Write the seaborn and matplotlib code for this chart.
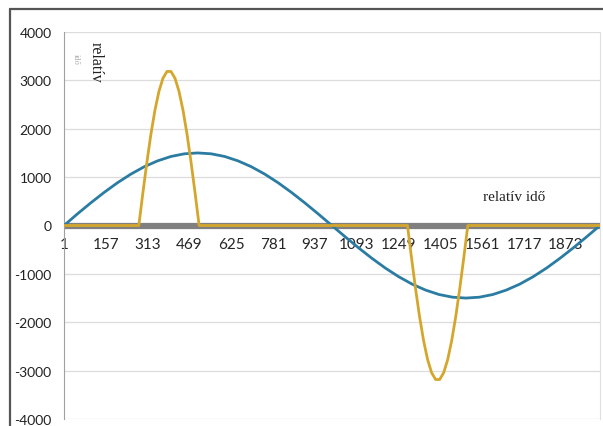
import numpy as np
import pandas as pd
import matplotlib
matplotlib.use("Agg")
import matplotlib.pyplot as plt
from matplotlib.lines import Line2D
import seaborn as sns

# ---- data ----
blue_x = [1, 50, 100, 150, 200, 250, 300, 350, 400, 450, 500, 550, 600, 650, 700, 750, 800,
          850, 900, 950, 1000, 1050, 1100, 1150, 1200, 1250, 1300, 1350, 1400, 1450, 1500,
          1550, 1600, 1650, 1700, 1750, 1800, 1850, 1900, 1950, 2000]
blue_y = [0, 235, 464, 681, 882, 1061, 1214, 1336, 1427, 1482, 1500, 1482, 1427, 1336, 1214,
          1061, 882, 681, 464, 235, 0, -235, -464, -681, -882, -1061, -1214, -1336, -1427,
          -1482, -1500, -1482, -1427, -1336, -1214, -1061, -882, -681, -464, -235, 0]

gold_x = [1, 280, 295, 310, 325, 340, 355, 370, 385, 400, 415, 430, 445, 460, 475, 490, 505,
          1282, 1297, 1312, 1327, 1342, 1357, 1372, 1387, 1402, 1417, 1432, 1447, 1462, 1477,
          1492, 1507, 2000]
gold_y = [0, 0, 666, 1302, 1882, 2378, 2771, 3043, 3184, 3184, 3043, 2771, 2378, 1882, 1302,
          666, 0,
          0, -666, -1302, -1882, -2378, -2771, -3043, -3184, -3184, -3043, -2771, -2378, -1882,
          -1302, -666, 0, 0]

gray_x = [1, 2000]
gray_y = [0, 0]

x_ticks = [1, 157, 313, 469, 625, 781, 937, 1093, 1249, 1405, 1561, 1717, 1873]
y_ticks = [-4000, -3000, -2000, -1000, 0, 1000, 2000, 3000, 4000]

# ---- plotting ----
sns.set_theme(style="white")
plt.rcParams['font.family'] = ['Lato', 'DejaVu Sans']

W, H = 603, 427
fig = plt.figure(figsize=(W / 100, H / 100), dpi=100)
fig.patch.set_facecolor("white")
ax = fig.add_axes([64 / W, (H - 420) / H, (600 - 64) / W, (420 - 33) / H])

df_gray = pd.DataFrame({"x": gray_x, "y": gray_y})
df_blue = pd.DataFrame({"x": blue_x, "y": blue_y})
df_gold = pd.DataFrame({"x": gold_x, "y": gold_y})

sns.lineplot(data=df_gray, x="x", y="y", ax=ax, color="#808080", linewidth=4.5,
             estimator=None, sort=False, zorder=2)
sns.lineplot(data=df_blue, x="x", y="y", ax=ax, color="#2b7ca3", linewidth=2.0,
             estimator=None, sort=False, zorder=3)
sns.lineplot(data=df_gold, x="x", y="y", ax=ax, color="#d4a72c", linewidth=2.0,
             estimator=None, sort=False, zorder=4)

ax.set_xlim(1, 2000)
ax.set_ylim(-4000, 4000)
ax.set_yticks(y_ticks)
ax.set_yticklabels([str(v) for v in y_ticks], fontsize=10, color="#222222")
ax.set_xticks(x_ticks)
ax.set_xticklabels([str(v) for v in x_ticks], fontsize=10, color="#222222")
ax.set_xlabel("")
ax.set_ylabel("")
ax.grid(axis="y", color="#dcdcdc", linewidth=0.9)
ax.grid(axis="x", visible=False)

ax.spines["top"].set_visible(False)
ax.spines["right"].set_color("#e0e0e0")
ax.spines["right"].set_linewidth(0.8)
ax.spines["left"].set_color("#a0a0a0")
ax.spines["left"].set_linewidth(0.8)
ax.spines["bottom"].set_position(("data", 0))
ax.spines["bottom"].set_visible(False)
ax.tick_params(axis="x", length=0, pad=8)
ax.tick_params(axis="y", length=0, pad=9)

ax.text(1679, 600, "relatív idő", family="Liberation Serif", fontsize=11,
        color="#222222", ha="center", va="center")
ax.text(118, 3400, "relatív", family="Liberation Serif", fontsize=11.5,
        color="#222222", rotation=-90, ha="center", va="center")
ax.text(45, 3450, "idő", family="Liberation Serif", fontsize=6, color="#aaaaaa",
        rotation=-90, ha="center", va="center")

# chart border
fig.add_artist(Line2D([10 / W, 1.0], [1 - 10 / H, 1 - 10 / H], color="#555555",
                      linewidth=1.6, transform=fig.transFigure))
fig.add_artist(Line2D([10 / W, 10 / W], [0, 1 - 10 / H], color="#555555",
                      linewidth=1.6, transform=fig.transFigure))

fig.savefig("out.png", dpi=100)
